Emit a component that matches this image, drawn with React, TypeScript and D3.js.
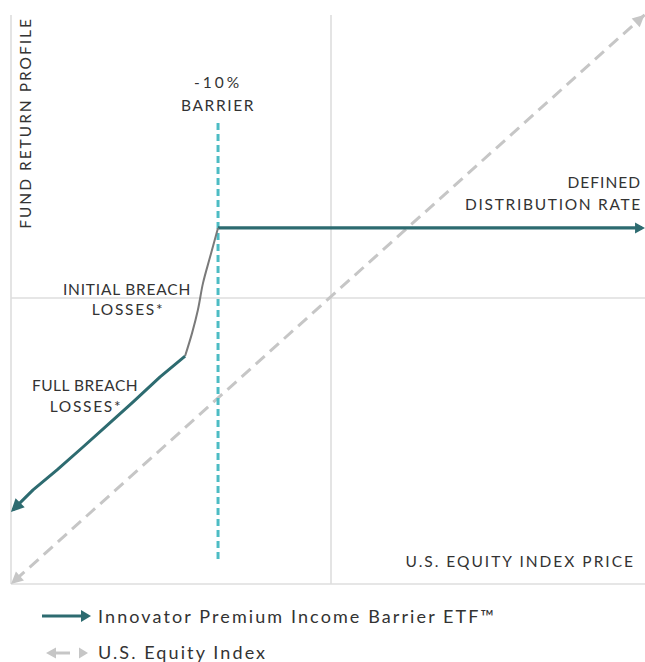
import * as d3 from "d3";

// conceptual payoff diagram, both axes in "% of range" units (-100..100)
const indexX = [-100, 98];
const indexY = [-100, 99];

const capX = [-35.3, 97.2];
const capY = [24.5, 24.5];

const initialBreachX = [-35.3, -37.8, -40.0, -41.6, -43.4, -45.6];
const initialBreachY = [24.5, 14.3, 5.2, -4.2, -12.2, -20.3];

const fullBreachX = [-45.6, -53.4, -61.9, -69.1, -77.5, -85.6, -93.1, -99.4];
const fullBreachY = [-20.3, -27.6, -36.4, -43.7, -52.1, -60.1, -67.1, -74.1];

const barrierX = -35.3;
const barrierY = [61.2, -92.7];

const legendLabels = ["Innovator Premium Income Barrier ETF™", "U.S. Equity Index"];

const W = 645;
const H = 662;
const TEAL = "#2d6b70";
const CYAN = "#4dbcc4";
const GRAY_DASH = "#c6c6c6";
const GRAY_SEG = "#7a7a7a";
const GRID = "#dedede";
const TEXT = "#333";
const FONT = "Lato, 'Open Sans', sans-serif";

const zip = (xs: number[], ys: number[]) => xs.map((x, i) => [x, ys[i]] as [number, number]);

export default function App() {
  const x = d3.scaleLinear().domain([-100, 100]).range([11, 651]);
  const y = d3.scaleLinear().domain([-100, 100]).range([584, 12]);

  const line = d3
    .line<[number, number]>()
    .x((d) => x(d[0]))
    .y((d) => y(d[1]));
  const curve = d3
    .line<[number, number]>()
    .x((d) => x(d[0]))
    .y((d) => y(d[1]))
    .curve(d3.curveMonotoneY);

  // arrowhead polygon at the end of a pixel segment
  const head = (x0: number, y0: number, x1: number, y1: number, len: number, half: number) => {
    const a = Math.atan2(y1 - y0, x1 - x0);
    const bx = x1 - len * Math.cos(a);
    const by = y1 - len * Math.sin(a);
    const px = -Math.sin(a) * half;
    const py = Math.cos(a) * half;
    return `${x1},${y1} ${bx + px},${by + py} ${bx - px},${by - py}`;
  };

  const idx = zip(indexX, indexY);
  const cap = zip(capX, capY);
  const init = zip(initialBreachX, initialBreachY);
  const full = zip(fullBreachX, fullBreachY);

  const fLast = full[full.length - 1];
  const fPrev = full[full.length - 2];
  const cLast = cap[cap.length - 1];

  return (
    <svg
      width={W}
      height={H}
      style={{ position: "absolute", left: 0, top: 0, background: "#fff" }}
      fontFamily={FONT}
    >
      {/* frame and center lines */}
      <g stroke={GRID} strokeWidth={1.6}>
        <line x1={x(-100)} x2={x(-100)} y1={y(100) + 3} y2={y(-100)} />
        <line x1={x(-100)} x2={W} y1={y(-100)} y2={y(-100)} />
        <line x1={x(0)} x2={x(0)} y1={y(100) + 3} y2={y(-100)} />
        <line x1={x(-100)} x2={W} y1={y(0)} y2={y(0)} />
      </g>

      {/* U.S. equity index diagonal */}
      <path
        d={line(idx) || ""}
        fill="none"
        stroke={GRAY_DASH}
        strokeWidth={3}
        strokeDasharray="12 7"
        strokeDashoffset={-6}
      />
      <polygon
        points={head(x(idx[1][0]), y(idx[1][1]), x(idx[0][0]), y(idx[0][1]), 12, 6)}
        fill={GRAY_DASH}
      />
      <polygon
        points={head(x(idx[0][0]), y(idx[0][1]), x(idx[1][0]), y(idx[1][1]), 12, 6)}
        fill={GRAY_DASH}
      />

      {/* barrier */}
      <line
        x1={x(barrierX)}
        x2={x(barrierX)}
        y1={y(barrierY[0])}
        y2={y(barrierY[1])}
        stroke={CYAN}
        strokeWidth={3}
        strokeDasharray="7 4"
      />

      {/* fund profile */}
      <path d={line(cap) || ""} fill="none" stroke={TEAL} strokeWidth={3.2} />
      <polygon points={head(x(cap[0][0]), y(cLast[1]), x(cLast[0]) + 3, y(cLast[1]), 10, 5.5)} fill={TEAL} />
      <path d={curve(init) || ""} fill="none" stroke={GRAY_SEG} strokeWidth={2} />
      <path
        d={line(full) || ""}
        fill="none"
        stroke={TEAL}
        strokeWidth={3}
        strokeLinejoin="round"
      />
      <polygon
        points={head(x(fPrev[0]), y(fPrev[1]), x(fLast[0]) - 2, y(fLast[1]) + 2, 13, 6.5)}
        fill={TEAL}
      />

      {/* annotations */}
      <g fill={TEXT} fontSize={15.5}>
        <text
          transform={`translate(31,${y(100) + 5}) rotate(-90)`}
          textAnchor="end"
          letterSpacing={2}
        >
          FUND RETURN PROFILE
        </text>
        <text x={x(barrierX) + 0} y={88} textAnchor="middle" letterSpacing={3}>-10%</text>
        <text x={x(barrierX)} y={111} textAnchor="middle" letterSpacing={1.6}>BARRIER</text>
        <text x={127} y={295} textAnchor="middle" letterSpacing={0.8}>INITIAL BREACH</text>
        <text x={128} y={315} textAnchor="middle" letterSpacing={1.7}>LOSSES*</text>
        <text x={85} y={391} textAnchor="middle" letterSpacing={0.5}>FULL BREACH</text>
        <text x={86} y={412} textAnchor="middle" letterSpacing={1.7}>LOSSES*</text>
        <text x={641} y={188} textAnchor="end" letterSpacing={1}>DEFINED</text>
        <text x={642} y={210} textAnchor="end" letterSpacing={1.7}>DISTRIBUTION RATE</text>
        <text x={635} y={567} textAnchor="end" letterSpacing={2}>U.S. EQUITY INDEX PRICE</text>
      </g>

      {/* legend */}
      <g fill={TEXT} fontSize={18} letterSpacing={2.1}>
        <line x1={42} x2={82} y1={616} y2={616} stroke={TEAL} strokeWidth={3} />
        <polygon points={head(42, 616, 91, 616, 10, 6)} fill={TEAL} />
        <text x={98} y={623}>{legendLabels[0]}</text>
        <line x1={56} x2={70} y1={653} y2={653} stroke={GRAY_DASH} strokeWidth={3} />
        <polygon points={head(70, 653, 46, 653, 10, 5.5)} fill={GRAY_DASH} />
        <polygon points={head(70, 653, 88, 653, 9, 5.5)} fill={GRAY_DASH} />
        <text x={98} y={659}>{legendLabels[1]}</text>
      </g>
    </svg>
  );
}
